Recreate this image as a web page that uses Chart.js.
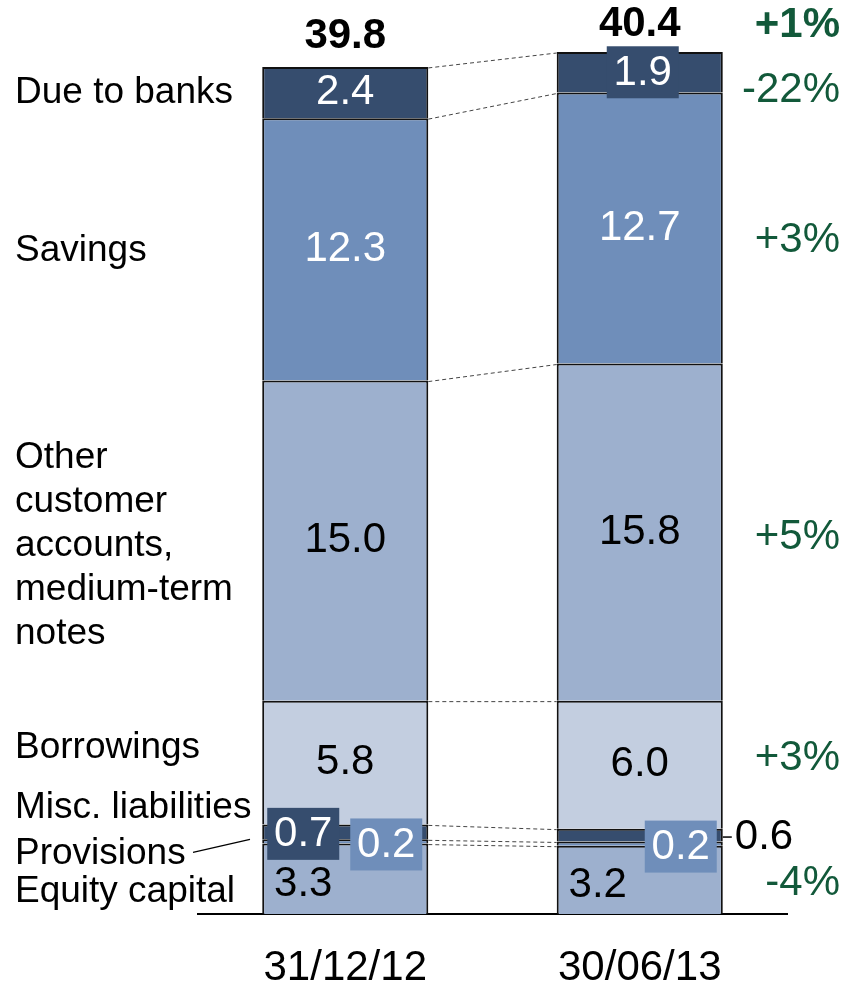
<!DOCTYPE html>
<html>
<head>
<title>Liabilities</title>
<script src="https://cdn.jsdelivr.net/npm/chart.js@4.4.0/dist/chart.umd.min.js"></script>
<style>
  body { margin: 0; background: #fff; }
  canvas { display: block; }
</style>
</head>
<body>
<canvas id="myCanvas" width="845" height="984"></canvas>
<script>
// data, bottom of the stack first
var dates = ['31/12/12', '30/06/13'];
var series = ['Equity capital', 'Provisions', 'Misc. liabilities', 'Borrowings',
              'Other customer accounts, medium-term notes', 'Savings', 'Due to banks'];
var equity = [3.3, 3.2];
var provisions = [0.2, 0.2];
var misc = [0.7, 0.6];
var borrowings = [5.8, 6.0];
var otherAccounts = [15.0, 15.8];
var savings = [12.3, 12.7];
var dueToBanks = [2.4, 1.9];
var totals = [39.8, 40.4];
var changes = ['-4%', null, null, '+3%', '+5%', '+3%', '-22%'];
var totalChange = '+1%';

var values = [equity, provisions, misc, borrowings, otherAccounts, savings, dueToBanks];
var colors = ['#9DB0CE', '#6F8EBA', '#364D6E', '#C3CEE0', '#9DB0CE', '#6F8EBA', '#364D6E'];
var FONT = '"Liberation Sans", Arial, sans-serif';
var GREEN = '#12593A';
var VAL = 42;

// left hand labels: lines + small vertical nudge from the first bar's segment centre
var leftLines = [['Equity capital'], ['Provisions'], ['Misc. liabilities'], ['Borrowings'],
                 ['Other', 'customer', 'accounts,', 'medium-term', 'notes'], ['Savings'], ['Due to banks']];
var leftNudge = [13, 12, -24, -15, 5, 1, 0];
var changeNudge = [4, 0, 0, -6, 5, 12, 18];

function txt(ctx, s, x, y, size, color, align, bold) {
  ctx.font = (bold ? 'bold ' : '') + size + 'px ' + FONT;
  ctx.fillStyle = color;
  ctx.textAlign = align || 'center';
  ctx.textBaseline = 'middle';
  ctx.fillText(s, x, y);
}

function boxTxt(ctx, s, cx, cy, fill) {
  ctx.fillStyle = fill;
  ctx.fillRect(cx - 36, cy - 26, 72, 52);
  txt(ctx, s, cx, cy + 1, VAL, '#fff');
}

var annotations = {
  id: 'annotations',
  afterDatasetsDraw: function(chart) {
    var ctx = chart.ctx;
    var yScale = chart.scales.y;
    var bars = values.map(function(v, d) { return chart.getDatasetMeta(d).data; });

    // dashed connectors between segment tops
    ctx.save();
    ctx.setLineDash([4, 3]);
    ctx.strokeStyle = '#444';
    ctx.lineWidth = 1;
    bars.forEach(function(b) {
      ctx.beginPath();
      ctx.moveTo(b[0].x + b[0].width / 2, b[0].y + 1);
      ctx.lineTo(b[1].x - b[1].width / 2, b[1].y + 1);
      ctx.stroke();
    });
    ctx.restore();

    // values inside / beside the segments
    bars.forEach(function(b, d) {
      b.forEach(function(el, i) {
        var s = values[d][i].toFixed(1);
        var cx = el.x, cy = (el.y + el.base) / 2;
        if (d === 0) {
          txt(ctx, s, cx - 42, cy + 6, VAL, '#000');
        } else if (d === 1) {
          boxTxt(ctx, s, cx + 41, cy + 3, colors[1]);
        } else if (d === 2) {
          if (i === 0) {
            boxTxt(ctx, s, cx - 42, cy + 2, colors[2]);
          } else {
            var rx = el.x + el.width / 2;
            ctx.strokeStyle = '#000';
            ctx.lineWidth = 1.5;
            ctx.beginPath();
            ctx.moveTo(rx, cy + 2);
            ctx.lineTo(rx + 9, cy + 2);
            ctx.stroke();
            txt(ctx, s, rx + 12, cy + 2, VAL, '#000', 'left');
          }
        } else if (d === 6 && i === 1) {
          boxTxt(ctx, s, cx + 3, cy, colors[6]);
        } else {
          txt(ctx, s, cx, cy, VAL, (d === 5 || d === 6) ? '#fff' : '#000');
        }
      });
    });

    // totals
    bars[0].forEach(function(el, i) {
      txt(ctx, totals[i].toFixed(1), el.x, yScale.getPixelForValue(totals[i]) - 28, VAL, '#000', 'center', true);
    });

    // left labels
    bars.forEach(function(b, d) {
      var lines = leftLines[d];
      var cy = (b[0].y + b[0].base) / 2 + leftNudge[d];
      var start = cy - (lines.length - 1) * 22;
      lines.forEach(function(l, k) {
        txt(ctx, l, 15, start + k * 44, 37, '#000', 'left');
      });
    });
    // leader from "Provisions"
    ctx.strokeStyle = '#000';
    ctx.lineWidth = 1.2;
    ctx.beginPath();
    ctx.moveTo(193, (bars[1][0].y + bars[1][0].base) / 2 + 11);
    ctx.lineTo(250, bars[1][0].y);
    ctx.stroke();

    // change column
    var rightX = chart.width - 5;
    bars.forEach(function(b, d) {
      if (!changes[d]) return;
      var cy = (b[1].y + b[1].base) / 2 + changeNudge[d];
      txt(ctx, changes[d], rightX, cy, VAL, GREEN, 'right');
    });
    txt(ctx, totalChange, rightX, yScale.getPixelForValue(totals[1]) - 27, VAL, GREEN, 'right', true);
  }
};

new Chart(document.getElementById('myCanvas'), {
  type: 'bar',
  data: {
    labels: dates,
    datasets: values.map(function(v, d) {
      return {
        label: series[d],
        data: v,
        backgroundColor: colors[d],
        borderColor: '#111',
        borderWidth: 2,
        borderSkipped: 'start',
        barPercentage: 0.564,
        categoryPercentage: 1
      };
    })
  },
  options: {
    responsive: false,
    animation: false,
    layout: { padding: { left: 198, right: 58, top: 20, bottom: 0 } },
    plugins: { legend: { display: false }, tooltip: { enabled: false } },
    scales: {
      x: {
        stacked: true,
        grid: { display: false, drawTicks: false },
        border: { display: true, color: '#000', width: 2 },
        ticks: { color: '#000', padding: 29, font: { size: 42, family: FONT } },
        afterFit: function(scale) { scale.height = 70; }
      },
      y: {
        stacked: true,
        display: false,
        min: 0,
        max: 41.9
      }
    }
  },
  plugins: [annotations]
});
</script>
</body>
</html>
